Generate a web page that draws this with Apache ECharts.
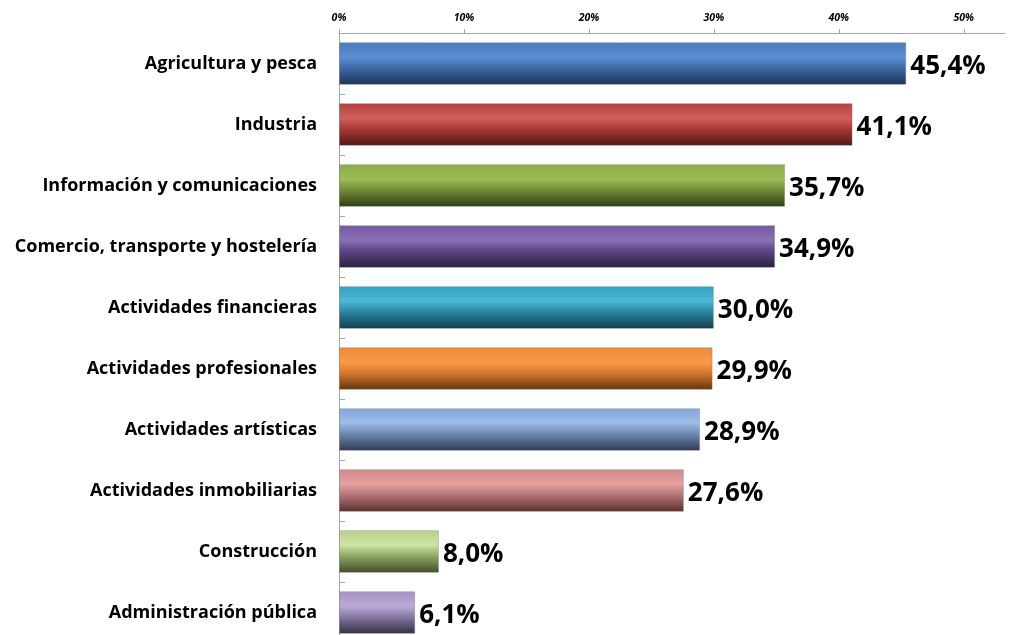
<!DOCTYPE html>
<html>
<head>
<meta charset="utf-8">
<script src="https://cdn.jsdelivr.net/npm/echarts@6/dist/echarts.min.js"></script>
<style>
html,body{margin:0;padding:0;background:#fff;}
#chart{width:1019px;height:635px;}
</style>
</head>
<body>
<div id="chart"></div>
<script>
const categories = [
  "Agricultura y pesca",
  "Industria",
  "Información y comunicaciones",
  "Comercio, transporte y hostelería",
  "Actividades financieras",
  "Actividades profesionales",
  "Actividades artísticas",
  "Actividades inmobiliarias",
  "Construcción",
  "Administración pública"
];
const values = [45.4, 41.1, 35.7, 34.9, 30.0, 29.9, 28.9, 27.6, 8.0, 6.1];
const tickValues = [0, 10, 20, 30, 40, 50];
// [top light, highlight, base, dark bottom]
const palettes = [
  ["#4a7cbd", "#5b8fd2", "#3d6aa6", "#1c3358"],
  ["#b8403d", "#d0605c", "#a83835", "#4e1816"],
  ["#8aaa46", "#9cbe56", "#708c36", "#2f3d15"],
  ["#7358a0", "#8c70b5", "#5e4686", "#2a1e3e"],
  ["#36a0be", "#4cb8d8", "#2b86a1", "#123c4a"],
  ["#f08a38", "#fa9a4a", "#d8782c", "#62340f"],
  ["#86a6d8", "#9cbbe8", "#6f88b0", "#2e3a52"],
  ["#d08a88", "#e6a0a0", "#b47676", "#5a2e2e"],
  ["#b8d08a", "#cfe4a4", "#90a868", "#3e4c24"],
  ["#a494c4", "#bcaad8", "#867aa2", "#352c45"]
];

function grad(p) {
  return new echarts.graphic.LinearGradient(0, 0, 0, 1, [
    { offset: 0, color: p[0] },
    { offset: 0.35, color: p[1] },
    { offset: 0.6, color: p[2] },
    { offset: 1, color: p[3] }
  ]);
}

const chart = echarts.init(document.getElementById('chart'));
chart.setOption({
  animation: false,
  grid: { left: 339, top: 33, width: 666, height: 610, containLabel: false, outerBoundsMode: 'none' },
  xAxis: {
    type: 'value',
    position: 'top',
    min: 0,
    max: 53.3,
    interval: 10,
    splitLine: { show: false },
    axisLine: { show: true, lineStyle: { color: '#a6a6a6', width: 1 } },
    axisTick: { show: true, length: 4, customValues: tickValues, lineStyle: { color: '#a6a6a6' } },
    axisLabel: {
      customValues: tickValues,
      formatter: v => v + '%',
      fontFamily: 'Open Sans',
      fontStyle: 'italic',
      fontWeight: 'bold',
      fontSize: 10.5,
      color: '#000',
      margin: 9
    }
  },
  yAxis: {
    type: 'category',
    inverse: true,
    data: categories,
    axisLine: { show: true, lineStyle: { color: '#a6a6a6', width: 1 } },
    axisTick: { show: true, inside: true, length: 6, lineStyle: { color: '#a6a6a6' } },
    axisLabel: {
      fontFamily: 'Open Sans',
      fontWeight: 'bold',
      fontSize: 18,
      color: '#000',
      margin: 22,
      padding: [5, 0, 0, 0]
    }
  },
  series: [{
    type: 'bar',
    data: values.map((v, i) => ({
      value: v,
      itemStyle: { color: grad(palettes[i]), borderColor: 'rgba(120,120,120,0.35)', borderWidth: 1 }
    })),
    barCategoryGap: '30%',
    label: {
      show: true,
      position: 'right',
      distance: 4,
      offset: [0, 3],
      formatter: p => p.value.toFixed(1).replace('.', ',') + '%',
      fontFamily: 'Open Sans',
      fontWeight: 'bold',
      fontSize: 26,
      color: '#000'
    }
  }]
});
</script>
</body>
</html>
